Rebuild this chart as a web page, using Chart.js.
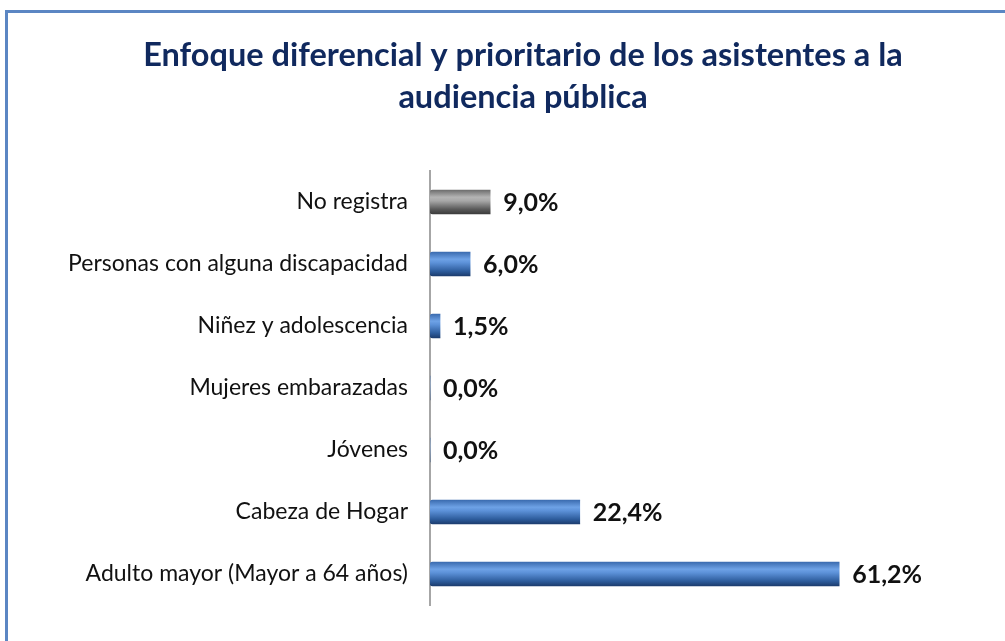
<!DOCTYPE html>
<html><head><meta charset="utf-8">
<script src="https://cdn.jsdelivr.net/npm/chart.js@4/dist/chart.umd.min.js"></script>
<style>
html,body{margin:0;padding:0;background:#fff;overflow:hidden;width:1005px;height:641px;}
#frame{position:absolute;left:5px;top:10px;width:1100px;height:700px;border:3px solid #5B86C3;box-sizing:border-box;}
#wrap{position:absolute;left:0;top:0;width:1005px;height:641px;}
</style></head>
<body>
<div id="frame"></div>
<div id="wrap"><canvas id="c" width="1005" height="641"></canvas></div>
<script>
const categories = ["No registra","Personas con alguna discapacidad","Niñez y adolescencia","Mujeres embarazadas","Jóvenes","Cabeza de Hogar","Adulto mayor (Mayor a 64 años)"];
const values = [9.0, 6.0, 1.5, 0.0, 0.0, 22.4, 61.2];
const valueLabels = ["9,0%","6,0%","1,5%","0,0%","0,0%","22,4%","61,2%"];
const titleLines = ["Enfoque diferencial y prioritario de los asistentes a la","audiencia pública"];

const BAR_T = 24;
function barFill(ctx){
  const chart = ctx.chart;
  const ys = chart.scales && chart.scales.y;
  const gray = ctx.dataIndex === 0;
  if(!ys || !chart.chartArea) return gray ? '#8a8a8a' : '#3f75bd';
  const yc = ys.getPixelForValue(ctx.dataIndex);
  const g = chart.ctx.createLinearGradient(0, yc - BAR_T/2, 0, yc + BAR_T/2);
  if(gray){
    g.addColorStop(0,'#6e6e6e'); g.addColorStop(0.3,'#b4b4b4'); g.addColorStop(0.45,'#a8a8a8');
    g.addColorStop(0.8,'#5a5a5a'); g.addColorStop(1,'#3c3c3c');
  } else {
    g.addColorStop(0,'#3b6cb0'); g.addColorStop(0.3,'#6ea2e6'); g.addColorStop(0.45,'#5c91d8');
    g.addColorStop(0.8,'#2d5c9c'); g.addColorStop(1,'#1c3d6e');
  }
  return g;
}

const valueLabelPlugin = {
  id:'valueLabels',
  afterDatasetsDraw(chart){
    const c = chart.ctx;
    const meta = chart.getDatasetMeta(0);
    c.save();
    c.font = 'bold 25px Lato, "Open Sans", sans-serif';
    c.fillStyle = '#111';
    c.textAlign = 'left';
    c.textBaseline = 'middle';
    meta.data.forEach((bar, i) => {
      c.fillText(valueLabels[i], bar.x + 13, bar.y + 1);
    });
    c.restore();
  }
};

new Chart(document.getElementById('c'), {
  type:'bar',
  data:{ labels: categories, datasets:[{ data: values, backgroundColor: barFill, barThickness: BAR_T, borderSkipped:false, borderRadius:{topLeft:3,bottomLeft:3,topRight:0,bottomRight:0} }]},
  options:{
    indexAxis:'y',
    responsive:false,
    animation:false,
    layout:{ padding:{ left:41, right:0, top:0, bottom:36 } },
    plugins:{
      legend:{display:false},
      tooltip:{enabled:false},
      title:{
        display:true,
        text:titleLines,
        color:'#10295E',
        font:{ family:'Lato, "Open Sans", sans-serif', size:32.5, weight:'bold', lineHeight:1.3 },
        padding:{ top:34, bottom:52.5 }
      }
    },
    scales:{
      x:{ display:false, min:0, max:86 },
      y:{
        grid:{ display:false, drawTicks:false },
        border:{ display:true, color:'#a6a6a6', width:2 },
        ticks:{ color:'#111', padding:22, font:{ family:'Lato, "Open Sans", sans-serif', size:23 } },
        afterFit(scale){ scale.width = 389; }
      }
    }
  },
  plugins:[valueLabelPlugin]
});
</script>
</body></html>
